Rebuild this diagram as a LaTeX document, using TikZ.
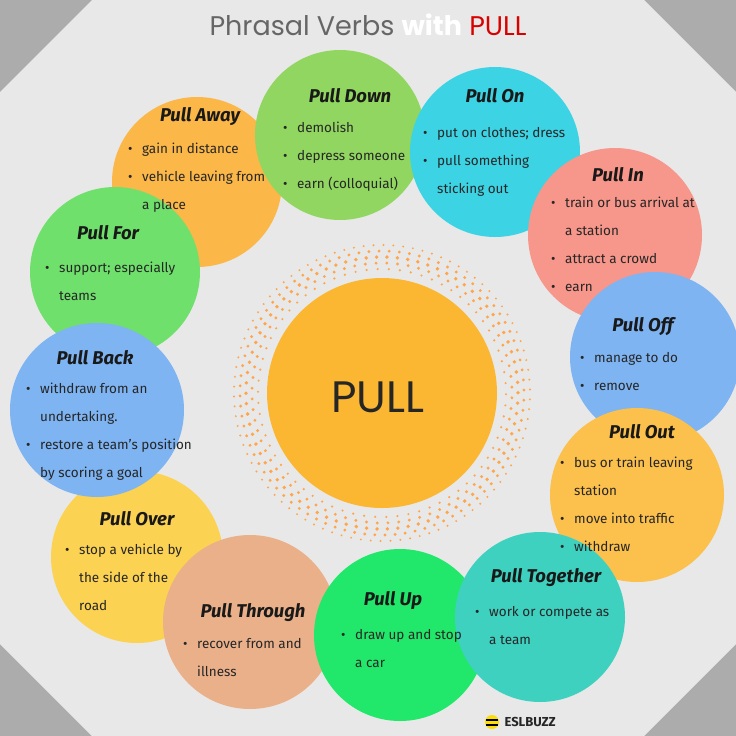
\documentclass[tikz,border=0pt]{standalone}
\usepackage{fontspec}
\setmainfont{Fira Sans}
\newfontfamily\titlefont{Poppins}
\begin{document}
\begin{tikzpicture}[x=1pt,y=-1pt,
  bub/.style={circle,draw=none,minimum size=#1*2pt,inner sep=0pt},
  ttl/.style={font=\fontsize{18.5}{20}\selectfont\bfseries\itshape,text=black!90},
  lst/.style={anchor=north west,align=left,inner sep=0pt,font=\fontsize{13.5}{28}\selectfont,text=black!85}]
\newcommand{\bu}{\makebox[14pt][l]{\textbullet}}
\newcommand{\co}{\hspace*{14pt}}
\useasboundingbox (0,0) rectangle (736,736);
\fill[gray!65] (0,0) rectangle (736,736);
\fill[gray!18] (92,0) -- (644,0) -- (736,92) -- (736,644) -- (644,736) -- (92,736) -- (0,644) -- (0,92) -- cycle;
\node[font=\titlefont\fontsize{27}{28}\selectfont] (title) at (368,25) {\textcolor{black!60}{Phrasal Verbs} \textcolor{white}{\bfseries with} \textcolor{red!85!black}{PULL}};
% dotted ring
\foreach \r/\n/\s in {124/70/1.2,130/76/1.6,136/82/1.9,142/88/1.6,148/94/1.1}{
  \foreach \i in {1,...,\n}{\fill[orange!70] (382,393)++({360/\n*\i+\r}:\r) circle (\s);}}
\node[bub=115,fill={rgb,255:red,252;green,183;blue,50}] (pull) at (382,393) {};
\node[font=\titlefont\fontsize{44}{46}\selectfont,text=black!85] (pulltxt) at (378,397) {PULL};
% bubbles
\node[bub=85,fill={rgb,255:red,251;green,183;blue,72}] (away) at (197,182) {};
\node[bub=85,fill={rgb,255:red,145;green,214;blue,96}] (down) at (340,135) {};
\node[bub=85,fill={rgb,255:red,60;green,211;blue,228}] (on) at (495,152) {};
\node[bub=87,fill={rgb,255:red,247;green,150;blue,138}] (in) at (615,235) {};
\node[bub=85,fill={rgb,255:red,110;green,224;blue,107}] (for) at (115,272) {};
\node[bub=85,fill={rgb,255:red,126;green,180;blue,242}] (off) at (655,357) {};
\node[bub=87,fill={rgb,255:red,252;green,192;blue,76}] (out) at (637,495) {};
\node[bub=86,fill={rgb,255:red,252;green,210;blue,82}] (over) at (137,557) {};
\node[bub=87,fill={rgb,255:red,126;green,180;blue,242}] (back) at (97,410) {};
\node[bub=87,fill={rgb,255:red,234;green,176;blue,138}] (through) at (250,622) {};
\node[bub=86,fill={rgb,255:red,33;green,232;blue,107}] (up) at (400,635) {};
\node[bub=85,fill={rgb,255:red,62;green,209;blue,192}] (together) at (540,617) {};
% texts
\node[ttl] (t1) at (200,117) {Pull Away};
\node[lst] (l1) at (128,143) {\bu gain in distance\\\bu vehicle leaving from\\\co a place};
\node[ttl] (t2) at (350,96) {Pull Down};
\node[lst] (l2) at (283,122) {\bu demolish\\\bu depress someone\\\bu earn (colloquial)};
\node[ttl] (t3) at (495,96) {Pull On};
\node[lst] (l3) at (423,127) {\bu put on clothes; dress\\\bu pull something\\\co sticking out};
\node[ttl] (t4) at (618,175) {Pull In};
\node[lst] (l4) at (551,197) {\bu train or bus arrival at\\\co a station\\\bu attract a crowd\\\bu earn};
\node[ttl] (t5) at (108,233) {Pull For};
\node[lst] (l5) at (45,262) {\bu support; especially\\\co teams};
\node[ttl] (t6) at (643,327) {Pull Off};
\node[lst] (l6) at (580,352) {\bu manage to do\\\bu remove};
\node[ttl] (t7) at (95,358) {Pull Back};
\node[lst] (l7) at (26,383) {\bu withdraw from an\\\co undertaking.\\\bu restore a team's position\\\co by scoring a goal};
\node[ttl] (t8) at (642,432) {Pull Out};
\node[lst] (l8) at (560,457) {\bu bus or train leaving\\\co station\\\bu move into traffic\\\bu withdraw};
\node[ttl] (t9) at (137,519) {Pull Over};
\node[lst] (l9) at (65,544) {\bu stop a vehicle by\\\co the side of the\\\co road};
\node[ttl] (t10) at (253,613) {Pull Through};
\node[lst] (l10) at (183,638) {\bu recover from and\\\co illness};
\node[ttl] (t11) at (393,601) {Pull Up};
\node[lst] (l11) at (341,629) {\bu draw up and stop\\\co a car};
\node[ttl] (t12) at (546,578) {Pull Together};
\node[lst] (l12) at (475,606) {\bu work or compete as\\\co a team};
% logo
\node[circle,fill=yellow!80!orange,minimum size=14pt,inner sep=0pt] (logo) at (492,722) {};
\draw[black,line width=1.5pt] (486,720) -- (498,720) (486,725) -- (498,725);
\node[anchor=west,font=\fontsize{13}{14}\selectfont\bfseries,text=black!85] (esl) at (501,722) {ESLBUZZ};
\end{tikzpicture}
\end{document}
